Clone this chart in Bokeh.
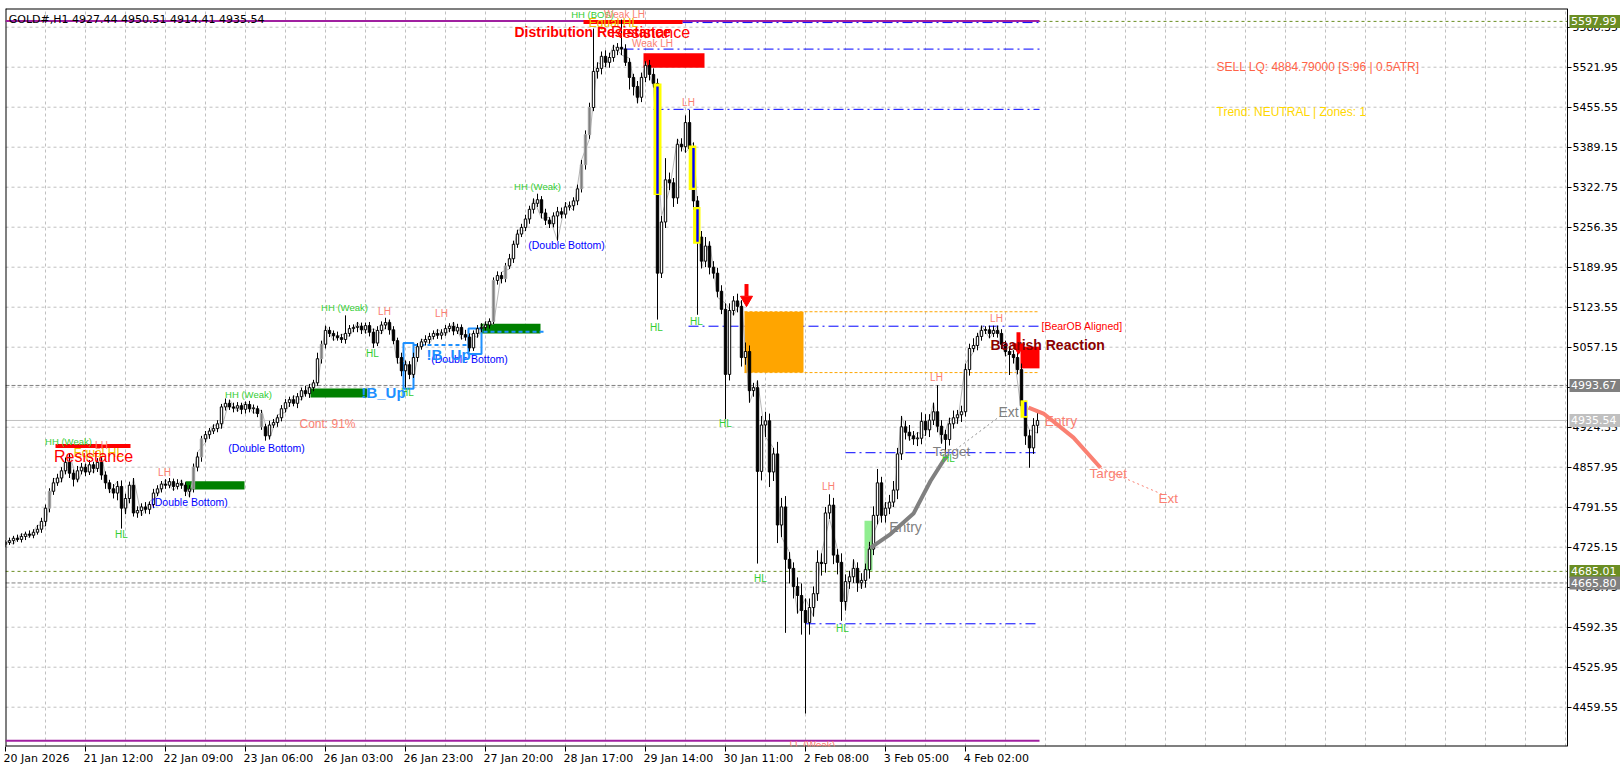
import numpy as np
from bokeh.plotting import figure
from bokeh.models import Range1d, FixedTicker, ColumnDataSource, PrintfTickFormatter, LinearAxis
from bokeh.core.properties import value
from bokeh.embed import file_html
from bokeh.resources import INLINE

# ---------------- data ----------------
x_tick_bars = [0, 20, 40, 60, 80, 100, 120, 140, 160, 180, 200, 220, 240]
x_tick_labels = ["20 Jan 2026", "21 Jan 12:00", "22 Jan 09:00", "23 Jan 06:00", "26 Jan 03:00",
                 "26 Jan 23:00", "27 Jan 20:00", "28 Jan 17:00", "29 Jan 14:00", "30 Jan 11:00",
                 "2 Feb 08:00", "3 Feb 05:00", "4 Feb 02:00"]
y_ticks = [5588.35, 5521.95, 5455.55, 5389.15, 5322.75, 5256.35, 5189.95, 5123.55, 5057.15,
           4990.75, 4924.35, 4857.95, 4791.55, 4725.15, 4658.75, 4592.35, 4525.95, 4459.55]

first_open = 4730.0
closes = [
    4733, 4736, 4740, 4738, 4743, 4747, 4745, 4750, 4755, 4768,
    4790, 4818, 4832, 4840, 4852, 4866, 4848, 4838, 4852, 4858,
    4850, 4862, 4856, 4866, 4845, 4832, 4822, 4815, 4826, 4790,
    4806, 4828, 4782, 4786, 4792, 4788, 4796, 4815, 4822, 4830,
    4828, 4834, 4826, 4831, 4828, 4818, 4822, 4858, 4875, 4905,
    4912, 4918, 4922, 4930, 4958, 4964, 4958, 4956, 4960, 4954,
    4962, 4955, 4955, 4947, 4925, 4910, 4928, 4932, 4940, 4955,
    4965, 4970, 4964, 4975, 4985, 4980, 4990, 4998, 5038, 5062,
    5085, 5080, 5076, 5073, 5070, 5080, 5088, 5090, 5092, 5086,
    5093, 5082, 5064, 5085, 5094, 5098, 5086, 5068, 5040, 5018,
    5028, 5012, 5040, 5058, 5066, 5070, 5075, 5080, 5077, 5081,
    5088, 5092, 5084, 5090, 5078, 5074, 5056, 5080, 5088, 5090,
    5094, 5100, 5168, 5176, 5171, 5192, 5204, 5228, 5245, 5256,
    5270, 5286, 5296, 5302, 5280, 5268, 5262, 5275, 5282, 5278,
    5290, 5292, 5300, 5320, 5360, 5410, 5455, 5515, 5520, 5540,
    5530, 5538, 5550, 5555, 5552, 5530, 5505, 5490, 5472, 5505,
    5525, 5510, 5495, 5180, 5265, 5335, 5330, 5305, 5394, 5390,
    5430, 5387, 5300, 5240, 5200, 5225, 5190, 5180, 5150, 5120,
    5012, 5118, 5134, 5125, 5040, 5050, 4985, 4990, 4851, 4928,
    4935, 4850, 4880, 4762, 4792, 4705, 4690, 4660, 4645, 4620,
    4600, 4625, 4648, 4700, 4698, 4782, 4795, 4712, 4700, 4635,
    4668, 4676, 4690, 4666, 4670, 4688, 4722, 4778, 4832, 4778,
    4790, 4800, 4820, 4880, 4925, 4916, 4910, 4905, 4906, 4934,
    4920, 4936, 4950, 4926, 4912, 4904, 4930, 4940, 4945, 4950,
    5020, 5055, 5060, 5075, 5085, 5086, 5080, 5085, 5080, 5062,
    5050, 5045, 5040, 5020, 4960, 4910, 4890, 4927.44, 4935.54,
]
wick_up = [
    4, 5, 4, 6, 5, 4, 6, 5, 7, 6,
    6, 5, 8, 7, 6, 8, 14, 6, 8, 7,
    6, 8, 5, 7, 10, 6, 5, 8, 9, 10,
    8, 6, 12, 7, 6, 8, 5, 7, 6, 5,
    8, 6, 5, 7, 6, 5, 6, 6, 8, 5,
    6, 5, 7, 6, 5, 8, 6, 7, 6, 5,
    5, 6, 7, 5, 6, 5, 7, 6, 5, 6,
    6, 5, 7, 6, 5, 8, 6, 5, 10, 6,
    8, 6, 5, 7, 6, 30, 6, 5, 7, 6,
    5, 6, 6, 7, 6, 8, 5, 6, 5, 8,
    7, 6, 8, 6, 5, 7, 6, 5, 7, 6,
    6, 5, 7, 6, 5, 8, 6, 5, 6, 7,
    6, 5, 5, 7, 6, 5, 8, 6, 7, 6,
    7, 6, 8, 10, 6, 7, 5, 6, 8, 7,
    8, 7, 6, 7, 8, 7, 8, 71, 10, 8,
    10, 8, 9, 7, 46, 8, 7, 6, 9, 8,
    7, 9, 10, 8, 10, 36, 12, 8, 9, 10,
    12, 21, 10, 8, 10, 15, 8, 10, 9, 10,
    10, 12, 8, 12, 10, 15, 10, 8, 12, 15,
    15, 12, 10, 20, 15, 18, 12, 10, 15, 20,
    20, 15, 12, 20, 15, 10, 18, 12, 10, 15,
    12, 10, 15, 10, 12, 10, 12, 15, 23, 10,
    10, 12, 15, 10, 18, 10, 12, 8, 10, 15,
    12, 10, 15, 44, 10, 8, 10, 12, 8, 10,
    10, 8, 12, 6, 8, 6, 7, 8, 8, 7,
    6, 8, 7, 8, 10, 8, 10, 12, 14.97,
]
wick_dn = [
    5, 4, 6, 4, 5, 6, 4, 5, 4, 6,
    8, 7, 6, 5, 7, 6, 8, 12, 5, 6,
    7, 5, 8, 6, 8, 10, 7, 9, 12, 34,
    10, 8, 6, 8, 9, 7, 8, 6, 5, 6,
    6, 5, 7, 5, 6, 8, 10, 6, 7, 8,
    6, 7, 5, 6, 8, 6, 5, 7, 6, 8,
    7, 6, 8, 6, 5, 8, 6, 5, 7, 6,
    6, 7, 5, 8, 6, 5, 7, 6, 5, 8,
    7, 6, 8, 5, 6, 7, 5, 6, 8, 7,
    6, 7, 8, 5, 6, 7, 8, 6, 10, 9,
    28, 8, 6, 7, 5, 6, 7, 5, 6, 7,
    5, 6, 7, 5, 8, 6, 6, 5, 7, 6,
    5, 6, 5, 7, 8, 6, 5, 7, 6, 5,
    6, 8, 7, 6, 9, 8, 7, 6, 41, 7,
    7, 6, 8, 7, 6, 8, 7, 6, 12, 10,
    8, 9, 7, 8, 10, 6, 20, 15, 10, 8,
    8, 10, 7, 77, 8, 10, 12, 15, 10, 8,
    10, 12, 15, 129, 12, 10, 12, 9, 10, 8,
    74, 10, 8, 10, 15, 12, 20, 10, 153, 15,
    20, 25, 15, 30, 20, 122, 25, 20, 30, 40,
    151, 20, 15, 12, 20, 15, 10, 15, 20, 32,
    15, 12, 10, 15, 10, 12, 15, 10, 15, 12,
    12, 10, 8, 15, 10, 12, 8, 10, 12, 10,
    10, 12, 8, 10, 15, 24, 10, 8, 10, 12,
    8, 10, 6, 8, 7, 6, 8, 6, 7, 8,
    8, 34, 10, 8, 12, 15, 33, 10, 13.03,
]
gray_bars = [11, 47, 49, 64, 79, 122, 125, 144, 145, 146]

# price tags on the right scale
tag_prices = [5597.99, 4993.67, 4935.54, 4685.01, 4665.80]
tag_colors = ["#6B8E23", "#808080", "#C0C0C0", "#6B8E23", "#808080"]

# indicator projections
proj_bars = [216.25, 221.25, 227.0, 231.25, 234.5, 235.5]
proj_prices = [4724, 4747, 4781, 4835, 4869, 4877]
sell_bars = [255.75, 259.5, 267.0, 273.75]
sell_prices = [4957, 4947, 4907, 4857]

# ---------------- figure ----------------
W, H = 1620, 770
BL, BT, BR, BB = 5, 8, 0, 24
FW, FH = W - BL - BR, H - BT - BB
PX = 4.0                       # pixels per bar
PP = 1.66                      # price per pixel
X0, X1 = 0.0, FW / PX
XA = (1567 - BL) / PX          # price-scale axis position (bars)
Y1 = 5521.95 + (66.7 - BT) * PP
Y0 = Y1 - FH * PP
p = figure(width=W, height=H, x_range=Range1d(X0, X1), y_range=Range1d(Y0, Y1),
           output_backend="svg", toolbar_location=None, y_axis_location="right",
           min_border_left=BL, min_border_top=BT, min_border_right=BR, min_border_bottom=BB)
p.outline_line_color = None
p.background_fill_color = "white"
p.border_fill_color = "white"

FONT = "Liberation Sans"
AXF = "DejaVu Sans"

# x axis: tick marks only (next to frame)
p.xaxis.ticker = FixedTicker(ticks=x_tick_bars)
p.xaxis.major_label_overrides = {b: "" for b in x_tick_bars}
p.xaxis.major_label_text_font_size = "1px"
p.xaxis.major_label_standoff = 0
p.xaxis.major_tick_out = 5
p.xaxis.major_tick_in = 0
p.xaxis.minor_tick_out = 0
p.xaxis.minor_tick_in = 0
p.xaxis.axis_line_color = None
p.xaxis.major_tick_line_color = "black"

# x axis: labels starting just right of each tick
cw = {'0': .636, '1': .636, '2': .636, '3': .636, '4': .636, '5': .636, '6': .636, '7': .636,
      '8': .636, '9': .636, ' ': .318, ':': .337, 'J': .295, 'a': .613, 'n': .634, 'F': .575,
      'e': .615, 'b': .635}
lab_pos, lab_map = [], {}
for b, t in zip(x_tick_bars, x_tick_labels):
    w = 11 * sum(cw.get(c, 0.6) for c in t)
    pos = round(b + (w / 2 - 2) / PX, 3)
    lab_pos.append(pos)
    lab_map[pos] = t
lab_axis = LinearAxis(ticker=FixedTicker(ticks=lab_pos), major_label_overrides=lab_map,
                      major_tick_out=0, major_tick_in=0, minor_tick_out=0, minor_tick_in=0,
                      axis_line_color=None, major_label_standoff=0,
                      major_label_text_font=AXF, major_label_text_font_size="11px",
                      major_label_text_color="black")
p.add_layout(lab_axis, "below")

# price scale drawn at the chart's right edge
p.yaxis.fixed_location = XA
p.yaxis.ticker = FixedTicker(ticks=y_ticks)
p.yaxis.formatter = PrintfTickFormatter(format="%.2f")
p.yaxis.major_tick_out = 4
p.yaxis.major_tick_in = 0
p.yaxis.minor_tick_out = 0
p.yaxis.minor_tick_in = 0
p.yaxis.major_label_standoff = 1
p.yaxis.axis_line_color = "black"
p.yaxis.major_tick_line_color = "black"
p.yaxis.major_label_text_font = AXF
p.yaxis.major_label_text_font_size = "11px"
p.yaxis.major_label_text_color = "black"

p.xgrid.ticker = FixedTicker(ticks=list(range(0, 391, 10)))
p.xgrid.grid_line_color = "#c0c0c0"
p.xgrid.grid_line_dash = "3 3"
p.ygrid.visible = False
hg = p.multi_line(xs=[[X0, XA]] * len(y_ticks), ys=[[v, v] for v in y_ticks],
                  line_color="#c0c0c0", line_dash="3 3", line_width=1)
hg.level = "underlay"

# chart frame (left, top, bottom)
for xs, ys in [([X0, XA], [Y1, Y1]), ([X0, XA], [Y0, Y0]), ([X0, X0], [Y0, Y1])]:
    p.line(xs, ys, line_color="black", line_width=2)

# full-width horizontal price lines
span_specs = [(5597.99, "#6B8E23", "3 3"), (4993.67, "#808080", "4 2"), (4935.54, "#C0C0C0", "solid"),
              (4685.01, "#6B8E23", "3 3"), (4665.80, "#808080", "4 2")]
for loc, col, dash in span_specs:
    r = p.line([X0, XA], [loc, loc], line_color=col, line_dash=dash, line_width=1)
    r.level = "underlay"

LAST = 258.5
blue_lines = [(169.25, LAST, 5596), (154.5, LAST, 5552), (162.0, LAST, 5452),
              (170.75, LAST, 5092), (210.0, LAST, 4882), (200.0, LAST, 4598)]
for b0, b1, pr in blue_lines:
    p.line([b0, b1], [pr, pr], line_color="#0000FF", line_width=1, line_dash="10 4 2 4")
for pr in (5598.6, 4404.0):
    p.line([0, LAST], [pr, pr], line_color="#A020A0", line_width=2)
for pr in (5116, 5015):
    p.line([184.75, LAST], [pr, pr], line_color="#FFA500", line_width=1, line_dash="3 2")

# zone boxes
p.quad(left=[184.75], right=[199.5], bottom=[5015], top=[5116], fill_color="#FFA500", line_color=None)
p.quad(left=[159.5], right=[174.75], bottom=[5521], top=[5545], fill_color="#FF0000", line_color=None)
p.quad(left=[253.75], right=[LAST], bottom=[5022], top=[5058], fill_color="#FF0000", line_color=None)
p.quad(left=[45, 76.25, 118.75], right=[59.75, 90.5, 133.75], bottom=[4821, 4973.5, 5080],
       top=[4834.5, 4988.4, 5096], fill_color="#008000", line_color=None)
p.line([12.5, 31.25], [4893, 4893], line_color="#FF0000", line_width=4)
p.line([144.5, 169.25], [5597, 5597], line_color="#FF0000", line_width=4)
p.quad(left=[99.5, 115.75], right=[102.0, 119.0], bottom=[4988, 5046], top=[5064, 5088],
       fill_color=None, line_color="#1E90FF", line_width=2)
p.line([102.0, 115.75], [5061, 5061], line_color="#1E90FF", line_width=2, line_dash="4 3")
p.line([119.5, 135.0], [5083, 5083], line_color="#1E90FF", line_width=2, line_dash="4 3")
p.quad(left=[214.75], right=[216.75], bottom=[4686], top=[4769], fill_color="#90EE90", line_color=None)

# ---------------- candles ----------------
n = min(len(closes), len(wick_up), len(wick_dn))
idx = np.arange(n)
cl = np.array(closes[:n], dtype=float)
op = np.concatenate([[first_open], cl[:-1]])
hi = np.maximum(op, cl) + np.array(wick_up[:n], dtype=float)
lo = np.minimum(op, cl) - np.array(wick_dn[:n], dtype=float)
btop = np.maximum(op, cl)
bbot = np.minimum(op, cl)
btop = np.where(btop - bbot < 1.5, bbot + 1.5, btop)
fills = ["white" if c >= o else "black" for o, c in zip(op, cl)]
lines = ["black"] * n
for g in gray_bars:
    if g < n:
        fills[g] = "#7f7f7f"
        lines[g] = "#a0a0a0"

zz_x, zz_y = [], []
for k, i in enumerate(range(0, n, 2)):
    zz_x.append(int(i))
    zz_y.append(float(hi[i] if k % 2 == 0 else lo[i]))
p.line(zz_x, zz_y, line_color="#b8b8b8", line_width=1)

src = ColumnDataSource(dict(x=idx, hi=hi, lo=lo, top=btop, bot=bbot, fill=fills, line=lines))
p.segment(x0="x", y0="lo", x1="x", y1="hi", source=src, line_color="black", line_width=1)
p.vbar(x="x", width=0.6, top="top", bottom="bot", source=src, fill_color="fill", line_color="line", line_width=1)

p.quad(left=[162.0, 170.8, 171.9, 253.75], right=[164.0, 172.7, 173.75, 255.5],
       bottom=[5310, 5318, 5229, 4940], top=[5495, 5392, 5290, 4969], fill_color="#FFFF00", line_color=None)
p.quad(left=[162.7, 171.7, 172.7, 254.7], right=[163.3, 172.3, 173.3, 255.3],
       bottom=[5312, 5322, 5232, 4943], top=[5490, 5388, 5286, 4966], fill_color="#0000FF", line_color=None)

p.line(proj_bars, proj_prices, line_color="#808080", line_width=4)
p.line([235.5, 249.5], [4877, 4947], line_color="#909090", line_width=1, line_dash="2 3")
p.line(sell_bars, sell_prices, line_color="#FA8072", line_width=4)
p.line([273.75, 289.5], [4857, 4812], line_color="#FA8072", line_width=1, line_dash="2 3")

for b, y0, y1, tip in [(185.25, 5162, 5142, 5136), (253.25, 5082, 5064, 5057)]:
    p.segment(x0=[b], y0=[y0], x1=[b], y1=[y1], line_color="#FF0000", line_width=4)
    p.scatter(x=[b], y=[tip], marker="inverted_triangle", size=12, fill_color="#FF0000", line_color="#FF0000")

# ---------------- texts ----------------
GREEN, SALMON, BLUE, GOLD, GRAY = "#32CD32", "#FA8072", "#0000FF", "#F0C000", "#808080"
texts = [
    ("HH (Weak)", 15.75, 4900.6, GREEN, "9.5px", False, "center"),
    ("Equal HL", 23.25, 4882, GOLD, "12px", False, "center"),
    ("LH", 24.0, 4894, SALMON, "10px", False, "center"),
    ("Resistance", 22.0, 4876, "#FF0000", "16px", False, "center"),
    ("LH", 39.75, 4849, SALMON, "10px", False, "center"),
    ("(Double Bottom)", 46.0, 4801, BLUE, "10.5px", False, "center"),
    ("HL", 29.0, 4746, GREEN, "10px", False, "center"),
    ("HH (Weak)", 60.75, 4978.6, GREEN, "9.5px", False, "center"),
    ("(Double Bottom)", 65.25, 4889, BLUE, "10.5px", False, "center"),
    ("Cont: 91%", 80.5, 4929, SALMON, "12px", False, "center"),
    ("HH (Weak)", 84.75, 5123, GREEN, "9.5px", False, "center"),
    ("LH", 94.75, 5116, SALMON, "10px", False, "center"),
    ("HL", 91.75, 5047, GREEN, "10px", False, "center"),
    ("LH", 109.0, 5113, SALMON, "10px", False, "center"),
    ("HL", 100.5, 4982, GREEN, "10px", False, "center"),
    ("(Double Bottom)", 116.0, 5037, BLUE, "10.5px", False, "center"),
    ("!B_Up", 110.75, 5045, "#1E90FF", "15px", True, "center"),
    ("!B_Up", 94.5, 4982, "#1E90FF", "15px", True, "center"),
    ("HH (Weak)", 133.0, 5324, GREEN, "9.5px", False, "center"),
    ("(Double Bottom)", 140.25, 5226, BLUE, "10.5px", False, "center"),
    ("HH (BOS)", 146.75, 5609, GREEN, "9.5px", False, "center"),
    ("Weak LH", 154.75, 5609, SALMON, "10px", False, "center"),
    ("Equal HL", 152.0, 5596, GOLD, "12px", False, "center"),
    ("Distribution Resistance", 127.25, 5581, "#FF0000", "14px", True, "left"),
    ("Resistance", 161.25, 5579.5, "#FF0000", "16px", False, "center"),
    ("Weak LH", 161.75, 5561, SALMON, "10px", False, "center"),
    ("HL", 162.75, 5090, GREEN, "10px", False, "center"),
    ("LH", 170.75, 5463, SALMON, "10px", False, "center"),
    ("HL", 172.75, 5100, GREEN, "10px", False, "center"),
    ("HL", 180.0, 4930, GREEN, "10px", False, "center"),
    ("HL", 188.75, 4673, GREEN, "10px", False, "center"),
    ("LH", 205.75, 4826, SALMON, "10px", False, "center"),
    ("HL", 209.25, 4590, GREEN, "10px", False, "center"),
    ("LL (Weak)", 201.75, 4396, SALMON, "10px", False, "center"),
    ("Entry", 225.0, 4758, GRAY, "14px", False, "center"),
    ("HL", 235.75, 4872, GREEN, "10px", False, "center"),
    ("Target", 236.5, 4884, GRAY, "13.5px", False, "center"),
    ("LH", 232.75, 5007, SALMON, "10px", False, "center"),
    ("LH", 247.75, 5105, SALMON, "10px", False, "center"),
    ("Ext", 250.75, 4949, GRAY, "14px", False, "center"),
    ("Bearish Reaction", 246.25, 5060, "#8B0000", "14px", True, "left"),
    ("[BearOB Aligned]", 259.0, 5093, "#FF0000", "10.5px", False, "left"),
    ("Entry", 259.75, 4934, SALMON, "14px", False, "left"),
    ("Target", 271.0, 4847, SALMON, "13.5px", False, "left"),
    ("Ext", 288.25, 4806, SALMON, "13.5px", False, "left"),
    ("SELL LQ: 4884.79000 [S:96 | 0.5ATR]", 302.75, 5523, "#FF6347", "12px", False, "left"),
    ("Trend: NEUTRAL | Zones: 1", 302.75, 5448, "#FFD700", "12px", False, "left"),
]
groups = {}
for t, b, pr, col, sz, bold, al in texts:
    d = groups.setdefault((bold, al), dict(x=[], y=[], text=[], color=[], size=[]))
    d["x"].append(b); d["y"].append(pr); d["text"].append(t); d["color"].append(col); d["size"].append(sz)
for (bold, al), d in groups.items():
    p.text(x="x", y="y", text="text", source=ColumnDataSource(d), text_color="color",
           text_font_size="size", text_font=value(FONT), text_align=al, text_baseline="middle",
           text_font_style=("bold" if bold else "normal"))

p.text(x=[0.8], y=[5601], text=["GOLD#,H1  4927.44 4950.51 4914.41 4935.54"], text_color="black",
       text_font_size="11px", text_font=value(AXF), text_align="left", text_baseline="middle")

# price tags on the price scale (drawn above the axis labels)
half = 6.5 * PP
tq = p.quad(left=[XA + 0.5] * len(tag_prices), right=[X1] * len(tag_prices),
            bottom=[v - half for v in tag_prices], top=[v + half for v in tag_prices],
            fill_color=tag_colors, line_color=None)
tq.level = "overlay"
tt = p.text(x=[XA + 0.9] * len(tag_prices), y=tag_prices, text=[f"{v:.2f}" for v in tag_prices],
            text_color="white", text_font=value(AXF), text_font_size="11px",
            text_align="left", text_baseline="middle")
tt.level = "overlay"

open("out.html", "w").write(file_html(p, INLINE))
